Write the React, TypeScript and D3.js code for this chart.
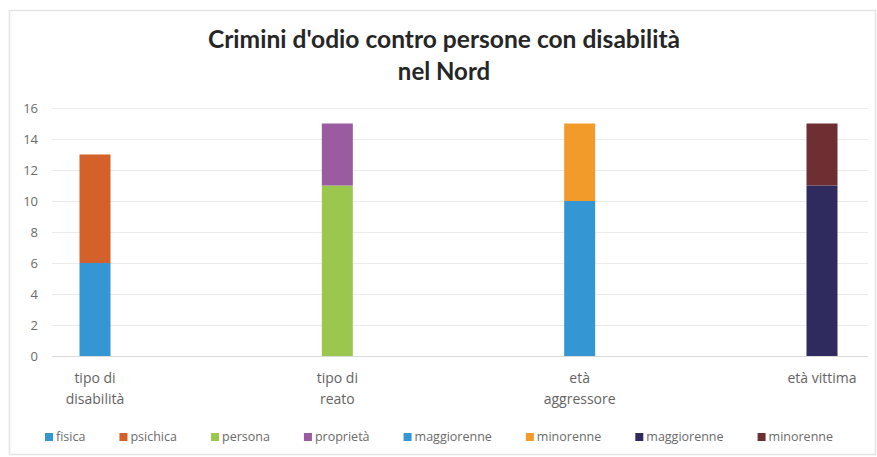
import React, { useEffect, useRef } from "react";
import * as d3 from "d3";

const categories = ["tipo di disabilità", "tipo di reato", "età aggressore", "età vittima"];
const categoryLines = [["tipo di", "disabilità"], ["tipo di", "reato"], ["età", "aggressore"], ["età vittima"]];
const seriesNames = ["fisica", "psichica", "persona", "proprietà", "maggiorenne", "minorenne", "maggiorenne", "minorenne"];
const seriesCategory = [0, 0, 1, 1, 2, 2, 3, 3];
const seriesValues = [6, 7, 11, 4, 10, 5, 11, 4];
const seriesColors = ["#3497d3", "#d4612a", "#9cc74f", "#9b5ba0", "#3497d3", "#f29b2a", "#2f2b5e", "#6e2f33"];
const yTicks = [0, 2, 4, 6, 8, 10, 12, 14, 16];
const titleLines = ["Crimini d'odio contro persone con disabilità", "nel Nord"];

const W = 877;
const H = 457;

export default function App() {
  const ref = useRef<SVGSVGElement | null>(null);

  useEffect(() => {
    const svg = d3.select(ref.current);
    svg.selectAll("*").remove();

    svg.append("rect").attr("x", 0).attr("y", 0).attr("width", W).attr("height", H).attr("fill", "#ffffff");
    svg.append("rect").attr("x", 9.5).attr("y", 10.5).attr("width", 866).attr("height", 444)
      .attr("fill", "none").attr("stroke", "#e4e4e4").attr("stroke-width", 1.5);

    const x = d3.scalePoint<string>().domain(categories).range([95, 822]);
    const y = d3.scaleLinear().domain([0, 16]).range([356, 108]);
    const barW = 31;

    // grid
    svg.append("g").selectAll("line").data(yTicks).join("line")
      .attr("x1", 52).attr("x2", 868)
      .attr("y1", (d) => y(d) + 0.5).attr("y2", (d) => y(d) + 0.5)
      .attr("stroke", (d) => (d === 0 ? "#d9d9d9" : "#ebebeb")).attr("stroke-width", 1);

    // y tick labels
    svg.append("g").selectAll("text").data(yTicks).join("text")
      .attr("x", 38).attr("y", (d) => y(d) + 4.5)
      .attr("text-anchor", "end")
      .attr("font-family", "'Open Sans', sans-serif").attr("font-size", 13)
      .attr("fill", "#6b6b6b").text((d) => String(d));

    // stacked bars
    const offsets = categories.map(() => 0);
    const bars = seriesValues.map((v, i) => {
      const c = seriesCategory[i];
      const y0 = offsets[c];
      offsets[c] += v;
      return { c, y0, y1: y0 + v, color: seriesColors[i] };
    });
    svg.append("g").selectAll("rect").data(bars).join("rect")
      .attr("x", (d) => (x(categories[d.c]) as number) - barW / 2)
      .attr("width", barW)
      .attr("y", (d) => y(d.y1))
      .attr("height", (d) => y(d.y0) - y(d.y1))
      .attr("fill", (d) => d.color);

    // category labels
    const cg = svg.append("g");
    categories.forEach((c, i) => {
      const t = cg.append("text")
        .attr("text-anchor", "middle")
        .attr("font-family", "'Open Sans', sans-serif").attr("font-size", 14)
        .attr("fill", "#646464");
      categoryLines[i].forEach((ln, j) => {
        t.append("tspan").attr("x", x(c) as number).attr("y", 383 + j * 21).text(ln);
      });
    });

    // title
    const tg = svg.append("g");
    titleLines.forEach((ln, i) => {
      const t = tg.append("text")
        .attr("x", 444).attr("y", 48 + i * 32)
        .attr("text-anchor", "middle")
        .attr("font-family", "Lato, 'Open Sans', sans-serif").attr("font-weight", 700)
        .attr("font-size", 24).attr("fill", "#262626").text(ln);
      if (i === 0) t.attr("textLength", 472).attr("lengthAdjust", "spacingAndGlyphs");
    });

    // legend
    const lg = svg.append("g");
    const items = seriesNames.map((n, i) => {
      const g = lg.append("g");
      g.append("rect").attr("width", 8).attr("height", 8).attr("y", -8).attr("fill", seriesColors[i]);
      const tx = g.append("text").attr("x", 11).attr("y", 0)
        .attr("font-family", "'Open Sans', sans-serif").attr("font-size", 12.5)
        .attr("fill", "#6b6b6b").text(n);
      const w = 11 + ((tx.node() as SVGTextElement).getComputedTextLength());
      return { g, w };
    });
    const total = items.reduce((s, it) => s + it.w, 0);
    const start = 45;
    const end = 833;
    const gap = (end - start - total) / (items.length - 1);
    let cx = start;
    items.forEach((it) => {
      it.g.attr("transform", `translate(${cx},441)`);
      cx += it.w + gap;
    });
  }, []);

  return (
    <svg ref={ref} width={W} height={H} style={{ position: "absolute", left: 0, top: 0, display: "block" }} />
  );
}
